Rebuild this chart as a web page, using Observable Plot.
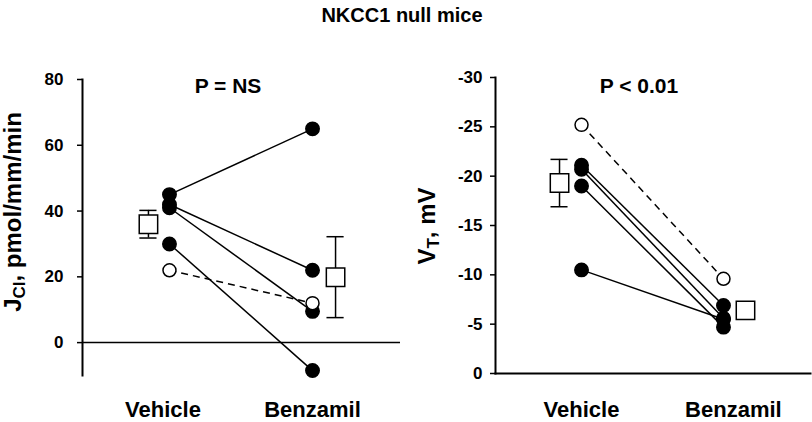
<!DOCTYPE html>
<html>
<head>
<meta charset="utf-8">
<script src="https://cdn.jsdelivr.net/npm/d3@7"></script>
<script src="https://cdn.jsdelivr.net/npm/@observablehq/plot@0.6"></script>
<style>
  html, body { margin: 0; padding: 0; background: #fff; }
  #wrap { position: relative; width: 812px; height: 422px; overflow: hidden; font-family: "Liberation Sans", Arial, sans-serif; }
  #left, #right { position: absolute; top: 0; }
  #left { left: 0; }
  #right { left: 406px; }
  #overlay { position: absolute; left: 0; top: 0; pointer-events: none; }
  #overlay text { font-family: "Liberation Sans", Arial, sans-serif; font-weight: bold; fill: #000; }
</style>
</head>
<body>
<div id="wrap">
  <div id="left"></div>
  <div id="right"></div>
  <svg id="overlay" width="812" height="422">
    <text x="402" y="22" text-anchor="middle" font-size="20">NKCC1 null mice</text>
    <text x="228" y="93" text-anchor="middle" font-size="21">P = NS</text>
    <text x="639" y="93" text-anchor="middle" font-size="21">P &lt; 0.01</text>
    <text transform="translate(21,212) rotate(-90)" text-anchor="middle" font-size="24">J<tspan font-size="17" dy="4">Cl</tspan><tspan dy="-4">, pmol/mm/min</tspan></text>
    <text transform="translate(435,226) rotate(-90)" text-anchor="middle" font-size="24">V<tspan font-size="17" dy="4">T</tspan><tspan dy="-4">, mV</tspan></text>
  </svg>
</div>
<script>
// ---- data ----
const groups = ["Vehicle", "Benzamil"];

// Left panel: J_Cl (pmol/mm/min)
const jclVehicle  = [45, 42, 41, 30, 22];
const jclBenzamil = [65, 22, 9.5, -8.5, 12];
const jclOpen     = [false, false, false, false, true];
const jclMean     = [36.0, 19.9];
const jclSem      = [4.2, 12.3];
const jclTicks    = [0, 20, 40, 60, 80];

// Right panel: V_T (mV)
const vtVehicle  = [-21.1, -20.7, -19.0, -10.5, -25.2];
const vtBenzamil = [-6.9, -5.6, -4.7, -5.5, -9.6];
const vtOpen     = [false, false, false, false, true];
const vtMean     = [-19.3, -6.4];
const vtSem      = [2.4, 0.8];
const vtTicks    = [0, -5, -10, -15, -20, -25, -30];

const font = '"Liberation Sans", Arial, sans-serif';

function panel({vehicle, benzamil, open, mean, sem, ticks, yDomain, marginLeft, marginRight, marginTop, marginBottom, xDomain, tickPadding, labelShift, labelDy, meanOffsets, bottomFrame}) {
  const pairs = vehicle.map((v, i) => ({x1: 1, y1: v, x2: 2, y2: benzamil[i], open: open[i]}));
  const pts = pairs.flatMap(p => [{x: p.x1, y: p.y1, open: p.open}, {x: p.x2, y: p.y2, open: p.open}]);
  const means = mean.map((m, i) => ({x: i + 1 + meanOffsets[i], y: m, lo: m - sem[i], hi: m + sem[i]}));
  const capW = 0.06;
  const marks = [
    Plot.axisY(ticks, {tickSize: 5, tickFormat: () => "", strokeWidth: 1.5, label: null}),
    Plot.text(ticks, {y: d => d, frameAnchor: "left", textAnchor: "end", dx: -(5 + tickPadding), text: d => String(d), fontSize: 17, fontWeight: "bold", fill: "black"}),
    Plot.text([1, 2], {x: d => d + labelShift[d - 1], frameAnchor: "bottom", dy: labelDy, text: d => groups[d - 1], fontSize: 22, fontWeight: "bold", fill: "black", lineAnchor: "bottom"}),
    Plot.frame({anchor: "left", strokeWidth: 2}),
  ];
  if (bottomFrame) marks.push(Plot.frame({anchor: "bottom", strokeWidth: 2}));
  else marks.push(Plot.ruleY([0], {strokeWidth: 1.5}));
  marks.push(
    Plot.link(pairs.filter(d => !d.open), {x1: "x1", y1: "y1", x2: "x2", y2: "y2", stroke: "black", strokeWidth: 1.5}),
    Plot.link(pairs.filter(d => d.open), {x1: "x1", y1: "y1", x2: "x2", y2: "y2", stroke: "black", strokeWidth: 1.5, strokeDasharray: "7,5"}),
    Plot.ruleX(means, {x: "x", y1: "lo", y2: "hi", stroke: "black", strokeWidth: 1.5}),
    Plot.ruleY(means, {y: "hi", x1: d => d.x - capW, x2: d => d.x + capW, stroke: "black", strokeWidth: 1.5}),
    Plot.ruleY(means, {y: "lo", x1: d => d.x - capW, x2: d => d.x + capW, stroke: "black", strokeWidth: 1.5}),
    Plot.dot(means, {x: "x", y: "y", symbol: "square", r: 10.4, fill: "white", stroke: "black", strokeWidth: 1.5}),
    Plot.dot(pts.filter(d => !d.open), {x: "x", y: "y", r: 6.7, fill: "black", stroke: "black"}),
    Plot.dot(pts.filter(d => d.open), {x: "x", y: "y", r: 6.5, fill: "white", stroke: "black", strokeWidth: 1.5})
  );
  return Plot.plot({
    width: 406, height: 422,
    marginLeft, marginRight, marginTop, marginBottom,
    style: {fontFamily: font, fontWeight: "bold", color: "black", background: "transparent", overflow: "visible"},
    x: {domain: xDomain, axis: null},
    y: {domain: yDomain, axis: null},
    marks
  });
}

// Left panel
document.getElementById("left").appendChild(panel({
  vehicle: jclVehicle, benzamil: jclBenzamil, open: jclOpen, mean: jclMean, sem: jclSem,
  ticks: jclTicks, yDomain: [-10, 80],
  marginLeft: 82, marginRight: 6, marginTop: 79, marginBottom: 47,
  xDomain: [0.392, 2.615], tickPadding: 14, labelShift: [-0.045, 0.0], labelDy: 41,
  meanOffsets: [-0.147, 0.161], bottomFrame: false
}));

// Right panel
document.getElementById("right").appendChild(panel({
  vehicle: vtVehicle, benzamil: vtBenzamil, open: vtOpen, mean: vtMean, sem: vtSem,
  ticks: vtTicks, yDomain: [0, -30],
  marginLeft: 89, marginRight: 2, marginTop: 77, marginBottom: 49,
  xDomain: [0.394, 2.613], tickPadding: 8, labelShift: [0.0, 0.07], labelDy: 43,
  meanOffsets: [-0.155, 0.155], bottomFrame: true
}));
</script>
</body>
</html>
